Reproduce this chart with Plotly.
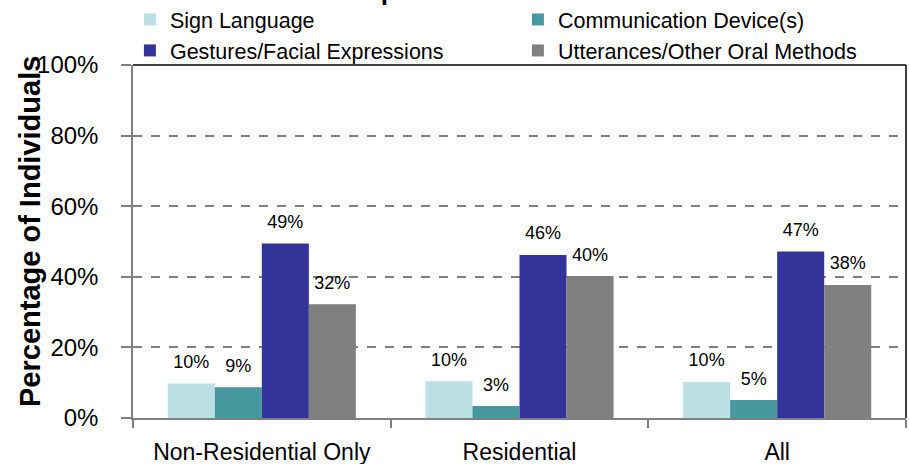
import plotly.graph_objects as go

categories = ["Non-Residential Only", "Residential", "All"]
series_names = ["Sign Language", "Communication Device(s)",
                "Gestures/Facial Expressions", "Utterances/Other Oral Methods"]
sign_language = [9.8, 10.4, 10.2]
comm_device = [8.7, 3.4, 5.1]
gestures = [49.4, 46.2, 47.2]
utterances = [32.2, 40.2, 37.7]
series_values = [sign_language, comm_device, gestures, utterances]
colors = ["#BBE0E3", "#46979E", "#333399", "#808080"]
y_ticks = [0, 20, 40, 60, 80, 100]
y_tick_labels = ["0%", "20%", "40%", "60%", "80%", "100%"]

FONT = "Liberation Sans, Arial, sans-serif"
PLOT_H = 464 - 65 - 46
PLOT_W = 909 - 133 - 3

fig = go.Figure()
for i, (name, vals, col) in enumerate(zip(series_names, series_values, colors)):
    fig.add_trace(go.Bar(
        x=categories, y=vals, name=name, marker_color=col,
        marker_line_width=0, offsetgroup=str(i),
    ))
for i, (name, vals) in enumerate(zip(series_names, series_values)):
    fig.add_trace(go.Scatter(
        x=categories, y=vals, mode="markers+text",
        text=[f"{round(v)}%" for v in vals], textposition="top center",
        textfont=dict(size=18, color="black", family=FONT),
        marker=dict(size=16, opacity=0), offsetgroup=str(i),
        showlegend=False, hoverinfo="skip", cliponaxis=False,
    ))

fig.update_layout(
    width=909, height=464,
    margin=dict(l=133, r=3, t=65, b=46, autoexpand=False),
    paper_bgcolor="white", plot_bgcolor="white",
    font=dict(family=FONT, color="black"),
    barmode="group", bargap=0.27, bargroupgap=0,
    scattermode="group", scattergap=0.27,
    legend=dict(
        orientation="h", x=-0.004, xanchor="left",
        y=1 + 66 / PLOT_H, yanchor="top",
        entrywidth=343, entrywidthmode="pixels",
        font=dict(size=21.5, family=FONT), traceorder="normal",
        bgcolor="rgba(0,0,0,0)",
    ),
    annotations=[
        dict(text="<b>Expressive Communication</b>", xref="paper", yref="paper",
             x=0.5, y=1 + 57 / PLOT_H, xanchor="center", yanchor="bottom",
             showarrow=False, font=dict(size=26, family=FONT, color="black")),
        dict(text="<b>Percentage of Individuals</b>", xref="paper", yref="paper",
             x=-103 / PLOT_W, y=0.527, xanchor="center", yanchor="middle",
             textangle=-90, showarrow=False,
             font=dict(size=29, family=FONT, color="black")),
    ],
    shapes=[
        dict(type="line", xref="paper", yref="paper", x0=0, x1=1, y0=1, y1=1,
             line=dict(color="black", width=1.5)),
        dict(type="line", xref="paper", yref="paper", x0=1, x1=1, y0=0, y1=1,
             line=dict(color="black", width=1.5)),
    ],
)
fig.update_xaxes(
    type="category", showline=True, linecolor="#808080", linewidth=2,
    ticks="outside", tickson="boundaries", ticklen=8, tickcolor="#808080",
    tickwidth=1.5, tickfont=dict(size=23, family=FONT, color="black"),
    ticklabelstandoff=12, showgrid=False,
)
fig.update_yaxes(
    range=[0, 100], tickvals=y_ticks, ticktext=y_tick_labels,
    showline=True, linecolor="#808080", linewidth=1.5,
    ticks="outside", ticklen=10, tickcolor="#808080", tickwidth=1.5,
    tickfont=dict(size=24, family=FONT, color="black"), ticklabelstandoff=18,
    showgrid=True, gridcolor="#808080", gridwidth=1.5, griddash="dash",
    zeroline=False,
)

fig.write_html("out.html")
